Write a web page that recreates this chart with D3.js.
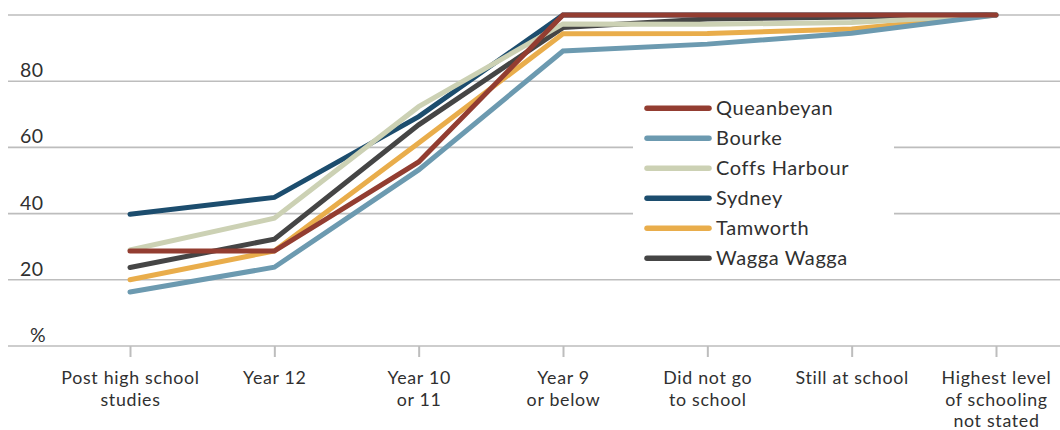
<!DOCTYPE html>
<html>
<head>
<meta charset="utf-8">
<script src="https://cdn.jsdelivr.net/npm/d3@7"></script>
<style>
  html, body { margin: 0; padding: 0; background: #fff; }
  svg { display: block; font-family: Lato, "Noto Sans", sans-serif; }
</style>
</head>
<body>
<svg id="chart" width="1060" height="430"></svg>
<script>
// ---- data ----
const categories = [
  "Post high school studies",
  "Year 12",
  "Year 10 or 11",
  "Year 9 or below",
  "Did not go to school",
  "Still at school",
  "Highest level of schooling not stated"
];
const categoryLines = [
  ["Post high school", "studies"],
  ["Year 12"],
  ["Year 10", "or 11"],
  ["Year 9", "or below"],
  ["Did not go", "to school"],
  ["Still at school"],
  ["Highest level", "of schooling", "not stated"]
];
const seriesNames = ["Queanbeyan", "Bourke", "Coffs Harbour", "Sydney", "Tamworth", "Wagga Wagga"];
const queanbeyan  = [28.7, 28.7, 55.6, 100, 100, 100, 100];
const bourke      = [16.3, 23.8, 53.2, 89.1, 91.2, 94.5, 100];
const coffsHarbour= [29.0, 38.6, 72.3, 97.3, 97.2, 97.7, 100];
const sydney      = [39.8, 44.9, 69.3, 100, 100, 100, 100];
const tamworth    = [20.0, 28.7, 61.3, 94.3, 94.4, 95.8, 100];
const waggaWagga  = [23.7, 32.3, 66.8, 96.2, 98.8, 99.4, 100];
const seriesValues = [queanbeyan, bourke, coffsHarbour, sydney, tamworth, waggaWagga];
const seriesColors = ["#933d31", "#6c9ab0", "#ccd1b4", "#1c4d6e", "#e9ad4b", "#454545"];
const yTicks = [0, 20, 40, 60, 80, 100];
const yTickLabels = ["%", "20", "40", "60", "80", ""];

// ---- layout ----
const svg = d3.select("#chart");
const x = d3.scalePoint().domain(categories).range([130, 996]);
const y = d3.scaleLinear().domain([0, 100]).range([346, 15]);
const gridColor = "#bdbdbd";
const textColor = "#303030";

// gridlines
const grid = svg.append("g");
grid.selectAll("line").data(yTicks).join("line")
  .attr("x1", 8).attr("x2", 1060)
  .attr("y1", d => y(d)).attr("y2", d => y(d))
  .attr("stroke", gridColor).attr("stroke-width", 1.6);

// y labels
svg.append("g").selectAll("text").data(yTicks).join("text")
  .attr("x", (d, i) => i === 0 ? 30 : 20)
  .attr("y", d => y(d) - 4)
  .attr("font-size", 19.5)
  .attr("letter-spacing", 0.5)
  .attr("fill", textColor)
  .text((d, i) => yTickLabels[i]);

// x axis
const xAxis = d3.axisBottom(x).tickSize(11).tickFormat("");
const gx = svg.append("g").attr("transform", `translate(0,${y(0)})`).call(xAxis);
gx.select(".domain").remove();
gx.selectAll(".tick line").attr("stroke", gridColor).attr("stroke-width", 2);
gx.selectAll(".tick").each(function(d, i) {
  const t = d3.select(this).append("text")
    .attr("text-anchor", "middle")
    .attr("font-size", 17.8)
    .attr("letter-spacing", 0.7)
    .attr("font-family", "Lato, 'Noto Sans', sans-serif")
    .attr("fill", textColor);
  categoryLines[i].forEach((ln, j) => {
    t.append("tspan").attr("x", 0).attr("y", 38 + j * 21.5).text(ln);
  });
});

// series lines (drawn in reverse so Queanbeyan is on top)
const line = d3.line().x((d, i) => x(categories[i])).y(d => y(d));
const order = d3.range(seriesNames.length).reverse();
svg.append("g").selectAll("path").data(order).join("path")
  .attr("d", i => line(seriesValues[i]))
  .attr("fill", "none")
  .attr("stroke", i => seriesColors[i])
  .attr("stroke-width", 5)
  .attr("stroke-linecap", "round")
  .attr("stroke-linejoin", "miter");

// legend
const lg = svg.append("g");
lg.append("rect").attr("x", 633).attr("y", 88).attr("width", 261).attr("height", 184).attr("fill", "#fff");
const items = lg.selectAll("g").data(seriesNames).join("g")
  .attr("transform", (d, i) => `translate(647,${108.3 + i * 30})`);
items.append("line").attr("x1", 0).attr("x2", 62).attr("y1", 0).attr("y2", 0)
  .attr("stroke", (d, i) => seriesColors[i]).attr("stroke-width", 5.5).attr("stroke-linecap", "round");
items.append("text").attr("x", 69).attr("y", 7).attr("font-size", 20).attr("letter-spacing", 0.6)
  .attr("fill", textColor).text(d => d);
</script>
</body>
</html>
